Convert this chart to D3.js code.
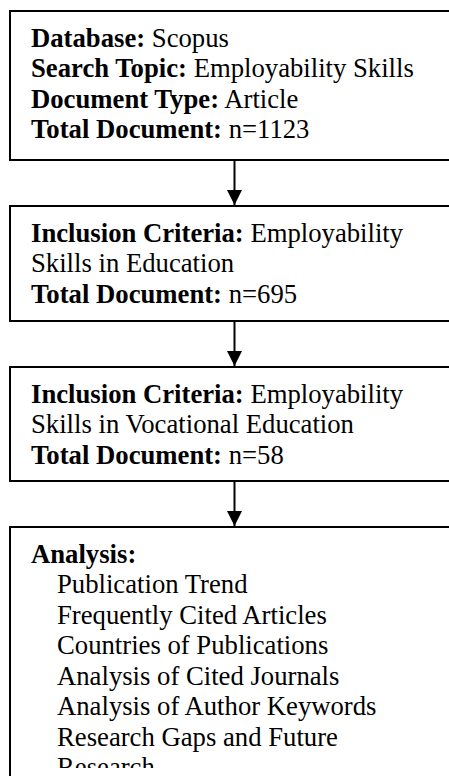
<!DOCTYPE html>
<html>
<head>
<meta charset="utf-8">
<script src="https://cdn.jsdelivr.net/npm/d3@7"></script>
<style>
  body { margin: 0; background: #fff; }
  svg { display: block; }
  text { font-family: "Liberation Serif", "Times New Roman", serif; font-size: 26.7px; fill: #000; }
  .lbl { font-weight: bold; }
</style>
</head>
<body>
<script>
// flow steps (label in bold, value in regular)
const searchLines = [
    ["Database:", "Scopus"],
    ["Search Topic:", "Employability Skills"],
    ["Document Type:", "Article"],
    ["Total Document:", "n=1123"]
];
const educationLines = [
    ["Inclusion Criteria:", "Employability"],
    ["", "Skills in Education"],
    ["Total Document:", "n=695"]
];
const vocationalLines = [
    ["Inclusion Criteria:", "Employability"],
    ["", "Skills in Vocational Education"],
    ["Total Document:", "n=58"]
];
const analysisItems = [
    "Publication Trend",
    "Frequently Cited Articles",
    "Countries of Publications",
    "Analysis of Cited Journals",
    "Analysis of Author Keywords",
    "Research Gaps and Future",
    "Research"
];

let w = 449, h = 776;
let boxX = 10, boxRight = 470, arrowX = 234.5;
let boxTops = [11, 206, 367, 527];
let boxHeights = [149, 115, 114, 400];
let lineH = 30.5, firstBase = 35.5, textX = 31, indentX = 57;
let clipBottom = 768;

let boxes = [
    searchLines,
    educationLines,
    vocationalLines,
    [["Analysis:", ""]].concat(analysisItems.map(d => ["", d]))
];

let svg = d3.select("body")
    .append("svg")
    .attr("width", w)
    .attr("height", h);

let defs = svg.append("defs");
defs.append("marker")
    .attr("id", "head")
    .attr("viewBox", "0 0 15 15")
    .attr("refX", 15)
    .attr("refY", 7.5)
    .attr("markerWidth", 15)
    .attr("markerHeight", 15)
    .attr("markerUnits", "userSpaceOnUse")
    .attr("orient", "auto")
    .append("path")
    .attr("d", "M0,0L15,7.5L0,15Z")
    .attr("fill", "#000");

// text in the last box is cut short like in the source
defs.append("clipPath")
    .attr("id", "textclip")
    .append("rect")
    .attr("x", 0)
    .attr("y", 0)
    .attr("width", w)
    .attr("height", clipBottom);

svg.selectAll("rect.box")
    .data(boxes)
    .enter()
    .append("rect")
    .attr("class", "box")
    .attr("x", boxX)
    .attr("y", (d, i) => boxTops[i])
    .attr("width", boxRight - boxX)
    .attr("height", (d, i) => boxHeights[i])
    .attr("fill", "none")
    .attr("stroke", "#000")
    .attr("stroke-width", 2);

// arrows between boxes
svg.selectAll("line.arrow")
    .data(boxes.slice(1))
    .enter()
    .append("line")
    .attr("class", "arrow")
    .attr("x1", arrowX)
    .attr("x2", arrowX)
    .attr("y1", (d, i) => boxTops[i] + boxHeights[i])
    .attr("y2", (d, i) => boxTops[i + 1] - 1)
    .attr("stroke", "#000")
    .attr("stroke-width", 2)
    .attr("marker-end", "url(#head)");

let textG = svg.append("g").attr("clip-path", "url(#textclip)");
boxes.forEach((lines, i) => {
    lines.forEach((ln, j) => {
        let x = (i === 3 && j > 0) ? indentX : textX;
        let txt = textG.append("text")
            .attr("x", x)
            .attr("y", boxTops[i] + firstBase + j * lineH);
        if (ln[0]) txt.append("tspan").attr("class", "lbl").text(ln[0]);
        if (ln[1]) txt.append("tspan").text((ln[0] ? " " : "") + ln[1]);
    });
});
</script>
</body>
</html>
